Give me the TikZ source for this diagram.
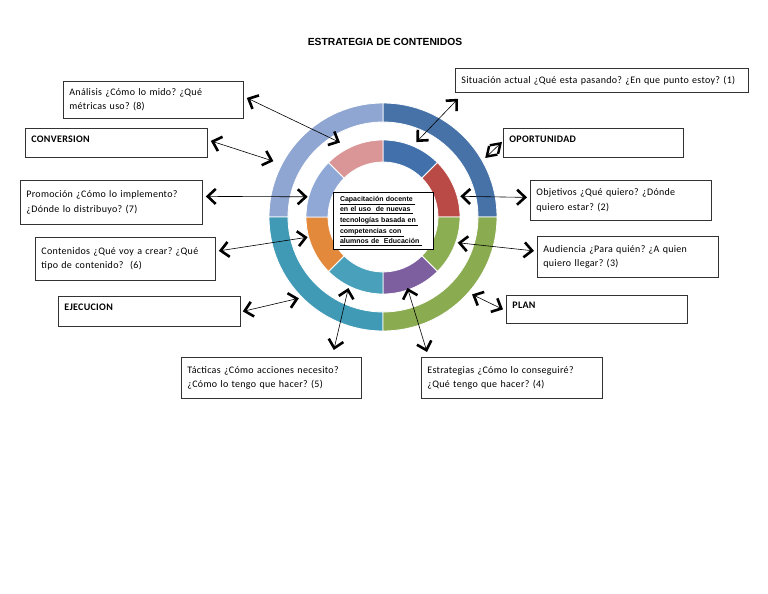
\documentclass[tikz,border=0pt]{standalone}
\usepackage{fontspec}
\setmainfont{Carlito}[LetterSpace=3]
\setsansfont{Liberation Sans}
\frenchspacing
\usetikzlibrary{arrows.meta, calc}
\definecolor{obl}{RGB}{70,114,168}
\definecolor{olb}{RGB}{143,166,210}
\definecolor{otl}{RGB}{64,154,182}
\definecolor{ogr}{RGB}{138,171,80}
\definecolor{ibl}{RGB}{66,112,170}
\definecolor{ird}{RGB}{185,74,70}
\definecolor{igr}{RGB}{140,174,82}
\definecolor{ipu}{RGB}{125,95,160}
\definecolor{itl}{RGB}{72,160,186}
\definecolor{ior}{RGB}{226,137,60}
\definecolor{ilb}{RGB}{143,168,214}
\definecolor{ipk}{RGB}{218,150,150}
\tikzset{box/.style={draw=black!80, line width=0.8pt, anchor=north west, align=left, inner xsep=6pt, inner ysep=3pt, font=\fontsize{10}{14.5}\selectfont},
tag/.style={box, font=\fontsize{10}{14.5}\selectfont\bfseries, text depth=8pt},
core/.style={draw, line width=0.8pt, align=left, inner xsep=7pt, text width=86pt, font=\sffamily\bfseries\fontsize{7}{10.6}\selectfont},
link/.style={{Straight Barb[length=8pt,width=15pt,line width=2.6pt]}-{Straight Barb[length=8pt,width=15pt,line width=2.6pt]}, line width=0.6pt},
pinch/.style={{Straight Barb[length=9pt,width=12pt,line width=2.4pt]}-{Straight Barb[length=9pt,width=12pt,line width=2.4pt]}, line width=0.6pt}}

\begin{document}
\begin{tikzpicture}[x=1pt, y=-1pt]
  \useasboundingbox (0,0) rectangle (768,594);
  \node[font=\sffamily\bfseries\fontsize{10.3}{12}\selectfont] (title) at (385,42) {ESTRATEGIA DE CONTENIDOS};
  \coordinate (c) at (383,217);
  % outer ring
  \foreach \a/\col in {0/obl, 90/olb, 180/otl, 270/ogr}
    \filldraw[fill=\col, draw=white, line width=0.8pt] ($(c)+(\a:114pt)$) arc[start angle=\a, end angle=\a+90, radius=114pt]
      -- ($(c)+(\a+90:95pt)$) arc[start angle=\a+90, end angle=\a, radius=95pt] -- cycle;
  % inner ring
  \foreach \a/\col in {45/ibl, 0/ird, -45/igr, -90/ipu, -135/itl, -180/ior, 135/ilb, 90/ipk}
    \filldraw[fill=\col, draw=white, line width=0.8pt] ($(c)+(\a:77pt)$) arc[start angle=\a, end angle=\a+45, radius=77pt]
      -- ($(c)+(\a+45:55pt)$) arc[start angle=\a+45, end angle=\a, radius=55pt] -- cycle;
  \node[core, fill=white] (mid) at (383,221) {\underline{Capacitación docente\ }\\ \underline{en el uso\ \ de nuevas\ }\\ \underline{tecnologías basada en\ }\\ \underline{competencias con\ }\\ \underline{alumnos de\ \ Educación\ }};
  % boxes
  \node[box, text width=281pt, minimum height=24pt] (sit) at (455,68) {Situación actual ¿Qué esta pasando? ¿En que punto estoy? (1)};
  \node[tag, text width=168pt, minimum height=29pt] (opo) at (503,128) {OPORTUNIDAD};
  \node[box, text width=168pt, minimum height=37pt] (ana) at (63,81) {Análisis ¿Cómo lo mido? ¿Qué\\ métricas uso? (8)};
  \node[tag, text width=170pt, minimum height=29pt] (conv) at (25,128) {CONVERSION};
  \node[box, text width=170pt, minimum height=44pt] (pro) at (20,180) {Promoción ¿Cómo lo implemento?\\ ¿Dónde lo distribuyo? (7)};
  \node[box, text width=168pt, minimum height=43pt] (con) at (35,237) {Contenidos ¿Qué voy a crear? ¿Qué\\ tipo de contenido?\ \ (6)};
  \node[tag, text width=170pt, minimum height=30pt] (eje) at (58,296) {EJECUCION};
  \node[box, text width=169pt, minimum height=40pt] (obj) at (530,180) {Objetivos ¿Qué quiero? ¿Dónde\\ quiero estar? (2)};
  \node[box, text width=169pt, minimum height=41pt] (aud) at (537,236) {Audiencia ¿Para quién? ¿A quien\\ quiero llegar? (3)};
  \node[tag, text width=169pt, minimum height=28pt] (plan) at (506,295) {PLAN};
  \node[box, text width=168pt, minimum height=41pt] (tac) at (181,357) {Tácticas ¿Cómo acciones necesito?\\ ¿Cómo lo tengo que hacer? (5)};
  \node[box, text width=169pt, minimum height=41pt] (est) at (421,357) {Estrategias ¿Cómo lo conseguiré?\\ ¿Qué tengo que hacer? (4)};
  % ring ends
  \coordinate (r1) at ($(c)+(66:82pt)$);
  \coordinate (r2) at ($(c)+(15:80pt)$);
  \coordinate (r3) at ($(c)+(-19:79pt)$);
  \coordinate (r4) at ($(c)+(-71:75pt)$);
  \coordinate (r5) at ($(c)+(-116:79pt)$);
  \coordinate (r6) at ($(c)+(-165:78pt)$);
  \coordinate (r7) at ($(c)+(165:78pt)$);
  \coordinate (r8) at ($(c)+(120:86pt)$);
  \coordinate (rop) at ($(c)+(30:118pt)$);
  \coordinate (rpl) at ($(c)+(-41:118pt)$);
  \coordinate (rej) at ($(c)+(-136:117pt)$);
  \coordinate (rcv) at ($(c)+(153:123pt)$);
  % connectors
  \draw[link] (r1) -- ([xshift=3pt,yshift=-6pt]sit.south west);
  \draw[pinch] (rop) -- ([xshift=-1pt,yshift=1pt]opo.west);
  \draw[link] (r2) -- ([xshift=-3pt,yshift=3pt]obj.west);
  \draw[link] (r3) -- ([xshift=-3pt,yshift=6pt]aud.west);
  \draw[link] (rpl) -- ([xshift=-3pt]plan.west);
  \draw[link] (r4) -- ([xshift=6pt,yshift=5pt]est.north west);
  \draw[link] (r5) -- ([xshift=-28pt,yshift=7pt]tac.north east);
  \draw[link] (rej) -- ([xshift=2pt]eje.east);
  \draw[link] (r6) -- ([xshift=3pt,yshift=8pt]con.east);
  \draw[link] (r7) -- ([xshift=3pt,yshift=6pt]pro.east);
  \draw[link] (rcv) -- ([xshift=3pt,yshift=2pt]conv.east);
  \draw[link] (r8) -- ([xshift=3pt,yshift=2pt]ana.east);
\end{tikzpicture}
\end{document}
